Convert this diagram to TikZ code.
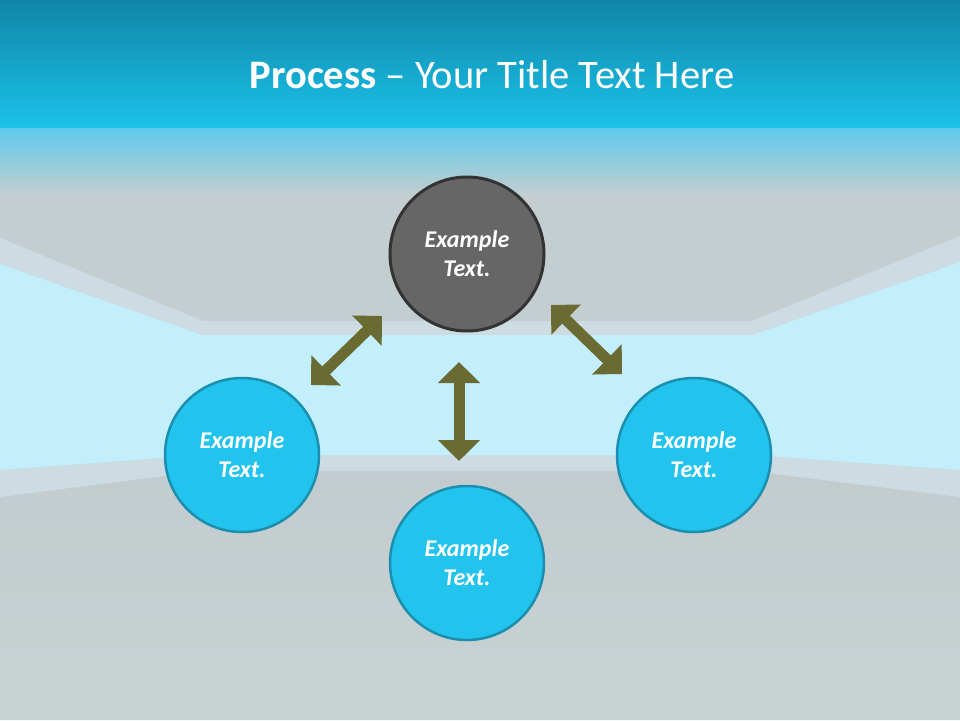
\documentclass[tikz,border=0pt]{standalone}
\usepackage{fontspec}
\setmainfont{Carlito}
\usetikzlibrary{arrows.meta}
\definecolor{bandtop}{HTML}{1086A7}
\definecolor{bandbot}{HTML}{1BC2EA}
\definecolor{glow}{HTML}{5CC9EA}
\definecolor{ceiling}{HTML}{C4CED0}
\definecolor{molding}{HTML}{CCDCE2}
\definecolor{wall}{HTML}{C3EFFD}
\definecolor{floortop}{HTML}{C2CCCE}
\definecolor{floorbot}{HTML}{C9D2D3}
\definecolor{hubfill}{HTML}{666666}
\definecolor{hubline}{HTML}{333333}
\definecolor{cyanfill}{HTML}{22C4EE}
\definecolor{cyanline}{HTML}{1A8FB0}
\definecolor{olive}{HTML}{6A6A33}
\begin{document}
\begin{tikzpicture}[x=1pt, y=-1pt, line join=miter,
    bubble/.style={circle, minimum size=154pt, inner sep=0pt, line width=2.5pt, align=center, text=white, font=\fontsize{24}{29}\selectfont\bfseries\itshape},
    link/.style={olive, line width=11pt, {Triangle[width=41pt,length=21pt]}-{Triangle[width=41pt,length=21pt]}}]
    \useasboundingbox (0,0) rectangle (960,720);
    \fill[ceiling] (0,0) rectangle (960,720);
    \shade[top color=floortop, bottom color=floorbot] (0,497) -- (203,471) -- (752,471) -- (960,497) -- (960,720) -- (0,720) -- cycle;
    \fill[molding] (0,470) -- (203,455) -- (752,455) -- (960,470) -- (960,497) -- (752,471) -- (203,471) -- (0,497) -- cycle;
    \fill[wall] (0,264) -- (203,335) -- (752,335) -- (960,262) -- (960,470) -- (752,455) -- (203,455) -- (0,470) -- cycle;
    \fill[molding] (0,238) -- (203,321) -- (752,321) -- (960,236) -- (960,262) -- (752,335) -- (203,335) -- (0,264) -- cycle;
    \shade[top color=glow, bottom color=ceiling] (0,127) rectangle (960,196);
    \shade[top color=bandtop, bottom color=bandbot] (0,0) rectangle (960,127);
    \node[anchor=base, text=white, font=\fontsize{40.5}{48}\selectfont] (title) at (492,88) {\textbf{Process} – Your Title Text Here};

    \node[bubble, fill=hubfill, draw=hubline, line width=3pt] (hub) at (467,254) {Example\\Text.};
    \node[bubble, fill=cyanfill, draw=cyanline] (west) at (242,455) {Example\\Text.};
    \node[bubble, fill=cyanfill, draw=cyanline] (south) at (467,563) {Example\\Text.};
    \node[bubble, fill=cyanfill, draw=cyanline] (east) at (694,455) {Example\\Text.};

    \coordinate (hubW) at (382,316);
    \coordinate (toW) at (311,385);
    \coordinate (hubS) at (459,362);
    \coordinate (toS) at (459,461);
    \coordinate (hubE) at (551,305);
    \coordinate (toE) at (622,374);
    \draw[link] (hubW) -- (toW);
    \draw[link] (hubS) -- (toS);
    \draw[link] (hubE) -- (toE);
\end{tikzpicture}
\end{document}
